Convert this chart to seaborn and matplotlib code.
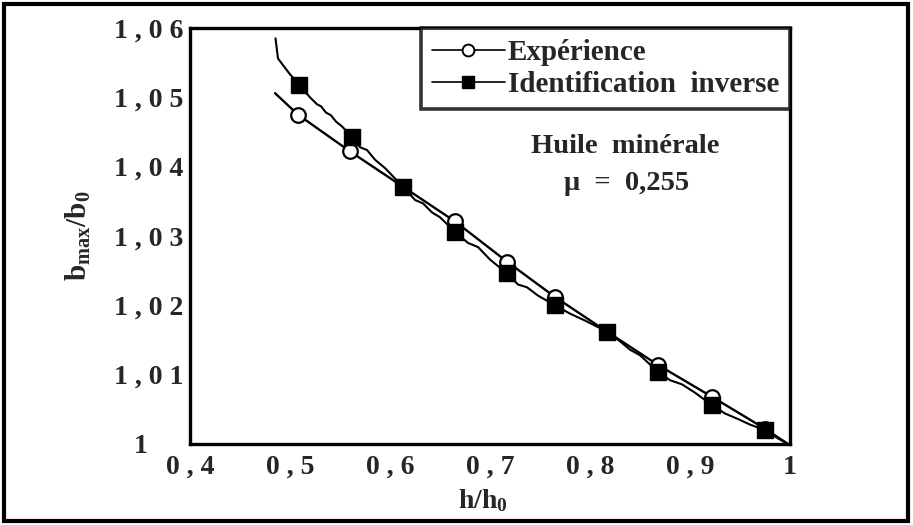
import matplotlib

matplotlib.use("Agg")

import matplotlib.pyplot as plt
import seaborn as sns
from matplotlib.lines import Line2D
from matplotlib.patches import Rectangle

# Expérience (open circles) - line through the measured points
exp_x = [0.485, 0.508, 0.560, 0.613, 0.665, 0.717, 0.765, 0.817, 0.868, 0.922, 0.975, 0.998]
exp_y = [1.0506, 1.0475, 1.0422, 1.0371, 1.0321, 1.0263, 1.0212, 1.0162, 1.0114, 1.0068, 1.0022, 1.0000]
exp_mark_x = exp_x[1:11]
exp_mark_y = exp_y[1:11]

# Identification inverse (filled squares) - wavy computed curve
ident_x = [0.4855, 0.488, 0.499, 0.509, 0.520, 0.527, 0.531, 0.536, 0.541, 0.546, 0.552, 0.562,
           0.570, 0.577, 0.585, 0.595, 0.613, 0.625, 0.633, 0.642, 0.650, 0.665, 0.678, 0.688,
           0.700, 0.717, 0.728, 0.737, 0.748, 0.765, 0.780, 0.795, 0.817, 0.830, 0.840, 0.850,
           0.868, 0.880, 0.892, 0.905, 0.922, 0.935, 0.948, 0.960, 0.975, 0.988, 0.998]
ident_y = [1.0585, 1.0556, 1.0535, 1.0518, 1.0500, 1.0490, 1.0487, 1.0478, 1.0474, 1.0465, 1.0458, 1.0443,
           1.0428, 1.0424, 1.0410, 1.0398, 1.0371, 1.0352, 1.0347, 1.0334, 1.0327, 1.0306, 1.0290, 1.0284,
           1.0266, 1.0246, 1.0230, 1.0226, 1.0214, 1.0200, 1.0188, 1.0178, 1.0162, 1.0148, 1.0136, 1.0128,
           1.0104, 1.0092, 1.0086, 1.0074, 1.0056, 1.0044, 1.0036, 1.0028, 1.0020, 1.0008, 1.0000]
ident_mark_x = [0.509, 0.562, 0.613, 0.665, 0.717, 0.765, 0.817, 0.868, 0.922, 0.975]
ident_mark_y = [1.0518, 1.0443, 1.0371, 1.0306, 1.0246, 1.0200, 1.0162, 1.0104, 1.0056, 1.0020]

x_ticks = [0.4, 0.5, 0.6, 0.7, 0.8, 0.9, 1.0]
x_tick_labels = ["0 , 4", "0 , 5", "0 , 6", "0 , 7", "0 , 8", "0 , 9", "1"]
y_ticks = [1.00, 1.01, 1.02, 1.03, 1.04, 1.05, 1.06]
y_tick_labels = ["1     ", "1 , 0 1", "1 , 0 2", "1 , 0 3", "1 , 0 4", "1 , 0 5", "1 , 0 6"]

series_labels = ["Expérience", "Identification  inverse"]

sns.set_style("white")
plt.rcParams["font.family"] = ["Liberation Serif", "DejaVu Serif"]
plt.rcParams["font.weight"] = "bold"
plt.rcParams["mathtext.fontset"] = "custom"
plt.rcParams["mathtext.rm"] = "Liberation Serif:bold"
plt.rcParams["mathtext.bf"] = "Liberation Serif:bold"
plt.rcParams["mathtext.it"] = "Liberation Serif:bold"

fig = plt.figure(figsize=(9.13, 5.25), dpi=100)
ax = fig.add_axes([0.2081, 0.1543, 0.6572, 0.7924])

sns.lineplot(x=exp_x, y=exp_y, ax=ax, color="black", lw=1.7, sort=False, legend=False)
sns.lineplot(x=ident_x, y=ident_y, ax=ax, color="black", lw=1.5, sort=False, legend=False)
ax.plot(exp_mark_x, exp_mark_y, ls="none", marker="o", ms=10.5, mfc="white",
        mec="black", mew=1.6, zorder=3)
ax.plot(ident_mark_x, ident_mark_y, ls="none", marker="s", ms=12, mfc="black",
        mec="black", zorder=4)

ax.set_xlim(0.4, 1.0)
ax.set_ylim(1.0, 1.06)
ax.set_xticks(x_ticks)
ax.set_xticklabels(x_tick_labels)
ax.set_yticks(y_ticks)
ax.set_yticklabels(y_tick_labels)
ax.tick_params(direction="in", length=7, width=1.5, labelsize=20, pad=5)
ax.tick_params(axis="x", pad=8)
for spine in ax.spines.values():
    spine.set_linewidth(2.4)
    spine.set_color("black")

ax.set_xlabel(r"h/h$_{\mathbf{0}}$", fontsize=20, fontweight="bold")
ax.set_ylabel(r"b$_{\mathbf{max}}$/b$_{\mathbf{0}}$", fontsize=21, fontweight="bold")
ax.xaxis.set_label_coords(0.488, -0.105)
ax.yaxis.set_label_coords(-0.162, 0.50)

handles = [
    Line2D([], [], color="black", lw=1.2, marker="o", ms=8.5, mfc="white", mec="black", mew=1.4),
    Line2D([], [], color="black", lw=1.2, marker="s", ms=8.5, mfc="black", mec="black"),
]
leg = ax.legend(handles, series_labels, loc="upper right", bbox_to_anchor=(1.0, 1.0),
                borderaxespad=0, frameon=True, fancybox=False, handlelength=2.5,
                handletextpad=0.1, borderpad=0.38, labelspacing=0.18,
                prop={"family": "Liberation Serif", "weight": "bold", "size": 21})
leg.get_frame().set_edgecolor("black")
leg.get_frame().set_linewidth(2.6)

ax.text(0.725, 0.714, "Huile  minérale", transform=ax.transAxes, ha="center", va="center",
        fontsize=20.5, fontweight="bold")
ax.text(0.728, 0.627, "μ  =  0,255", transform=ax.transAxes, ha="center", va="center",
        fontsize=20.5, fontweight="bold")

fig.patches.append(Rectangle((0.004, 0.007), 0.99, 0.986, transform=fig.transFigure,
                             fill=False, lw=3, edgecolor="black"))

fig.savefig("out.png", dpi=100)
